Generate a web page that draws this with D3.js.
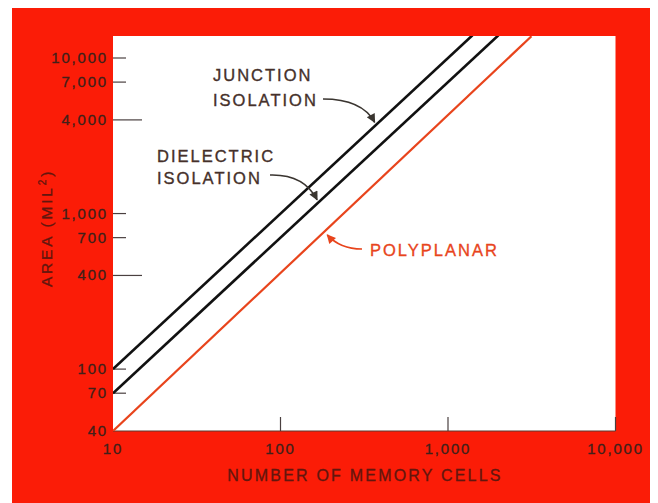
<!DOCTYPE html>
<html>
<head>
<meta charset="utf-8">
<script src="https://cdn.jsdelivr.net/npm/d3@7"></script>
<style>
  html, body { margin: 0; padding: 0; background: #ffffff; }
  svg { display: block; }
  text { font-family: "Liberation Sans", Arial, Helvetica, sans-serif; }
</style>
</head>
<body>
<svg id="chart" width="658" height="503"></svg>
<script>
// Axis ticks
const xTicks = [10, 100, 1000, 10000];
const xTickLabels = ["10", "100", "1,000", "10,000"];
const yTicks = [40, 70, 100, 400, 700, 1000, 4000, 7000, 10000];
const yTickLabels = ["40", "70", "100", "400", "700", "1,000", "4,000", "7,000", "10,000"];
const yLongTicks = [400, 4000];

// Series: chip area (mil²) against number of memory cells, straight lines on log-log axes
const junctionCells = [10, 1400];
const junctionArea = [100, 14000];
const dielectricCells = [10, 2000];
const dielectricArea = [70, 14000];
const polyplanarCells = [10, 3150];
const polyplanarArea = [40, 13800];

// Where each label's arrow lands on its line
const junctionTip = [375, 3750];
const dielectricTip = [170, 1190];
const polyplanarTip = [185, 740];

const svg = d3.select("#chart");
const plot = { left: 113, right: 615.5, top: 36, bottom: 431 };

const RED = "#fb1c07";
const INK = "#45302a";
const AXIS_INK = "#40201a";
const TITLE_INK = "#62160e";
const ORANGE = "#e8441c";

// Red frame
svg.append("rect")
  .attr("x", 12).attr("y", 8)
  .attr("width", 638).attr("height", 495)
  .attr("fill", RED);

// White plotting field
svg.append("rect")
  .attr("x", plot.left).attr("y", plot.top)
  .attr("width", plot.right - plot.left).attr("height", plot.bottom - plot.top)
  .attr("fill", "#ffffff");

const x = d3.scaleLog().domain([10, 10000]).range([plot.left, plot.right]);
const y = d3.scaleLog().domain([40, 10000]).range([plot.bottom, 58]);

svg.append("defs").append("clipPath").attr("id", "plotClip")
  .append("rect")
  .attr("x", plot.left).attr("y", plot.top)
  .attr("width", plot.right - plot.left).attr("height", plot.bottom - plot.top);

// Bottom edge of the field
svg.append("line")
  .attr("x1", plot.left).attr("x2", plot.right)
  .attr("y1", plot.bottom).attr("y2", plot.bottom)
  .attr("stroke", "#5a3a30").attr("stroke-width", 1.2);

// Y ticks: short marks, longer at 400 and 4,000
const yAxisG = svg.append("g");
yAxisG.selectAll("line.ytick")
  .data(yTicks.filter(v => v !== 40))
  .join("line")
  .attr("class", "ytick")
  .attr("x1", plot.left)
  .attr("x2", d => plot.left + (yLongTicks.includes(d) ? 29 : 13))
  .attr("y1", d => y(d)).attr("y2", d => y(d))
  .attr("stroke", "#4a4040").attr("stroke-width", 1.2);

yAxisG.selectAll("text.ylab")
  .data(yTicks)
  .join("text")
  .attr("class", "ylab")
  .attr("x", 108)
  .attr("y", d => y(d) + 5)
  .attr("text-anchor", "end")
  .attr("font-size", 15)
  .attr("letter-spacing", 1.8)
  .attr("fill", AXIS_INK)
  .attr("stroke", AXIS_INK).attr("stroke-width", 0.3)
  .text((d, i) => yTickLabels[i]);

// X ticks
const xAxisG = svg.append("g");
xAxisG.selectAll("line.xtick")
  .data(xTicks.filter(v => v !== 10))
  .join("line")
  .attr("class", "xtick")
  .attr("x1", d => x(d)).attr("x2", d => x(d))
  .attr("y1", plot.bottom).attr("y2", plot.bottom - 14)
  .attr("stroke", "#4a4040").attr("stroke-width", 1.2);

xAxisG.selectAll("text.xlab")
  .data(xTicks)
  .join("text")
  .attr("class", "xlab")
  .attr("x", d => x(d))
  .attr("y", 454)
  .attr("text-anchor", "middle")
  .attr("font-size", 15)
  .attr("letter-spacing", 1.8)
  .attr("fill", AXIS_INK)
  .attr("stroke", AXIS_INK).attr("stroke-width", 0.3)
  .text((d, i) => xTickLabels[i]);

// Axis titles
svg.append("text")
  .attr("x", 365).attr("y", 481)
  .attr("text-anchor", "middle")
  .attr("font-size", 16)
  .attr("letter-spacing", 2.2)
  .attr("fill", TITLE_INK)
  .attr("stroke", TITLE_INK).attr("stroke-width", 0.3)
  .text("NUMBER OF MEMORY CELLS");

const yTitle = svg.append("text")
  .attr("transform", "translate(52,228) rotate(-90)")
  .attr("text-anchor", "middle")
  .attr("font-size", 15.5)
  .attr("letter-spacing", 2.8)
  .attr("fill", TITLE_INK)
  .attr("stroke", TITLE_INK).attr("stroke-width", 0.3);
yTitle.append("tspan").text("AREA (MIL");
yTitle.append("tspan").attr("dy", -6).attr("font-size", 10).text("2");
yTitle.append("tspan").attr("dy", 6).text(")");

// Series lines
const line = d3.line().x(d => x(d[0])).y(d => y(d[1]));
const series = [
  { cells: junctionCells, area: junctionArea, color: "#111111", width: 2.6 },
  { cells: dielectricCells, area: dielectricArea, color: "#111111", width: 2.6 },
  { cells: polyplanarCells, area: polyplanarArea, color: ORANGE, width: 2.2 }
];
svg.append("g").attr("clip-path", "url(#plotClip)")
  .selectAll("path")
  .data(series)
  .join("path")
  .attr("d", s => line(d3.zip(s.cells, s.area)))
  .attr("fill", "none")
  .attr("stroke", s => s.color)
  .attr("stroke-width", s => s.width);

// Arrowheads
const defs = svg.select("defs");
function arrowMarker(id, color) {
  defs.append("marker")
    .attr("id", id)
    .attr("viewBox", "0 0 10 10")
    .attr("refX", 9).attr("refY", 5)
    .attr("markerUnits", "userSpaceOnUse")
    .attr("markerWidth", 11).attr("markerHeight", 9)
    .attr("orient", "auto")
    .append("path")
    .attr("d", "M0,0 L10,5 L0,10 Z")
    .attr("fill", color);
}
arrowMarker("arrowDark", "#3a3530");
arrowMarker("arrowRed", ORANGE);

// Labels with curved arrows
function label(lines, lx, ly, color, lineGap) {
  const t = svg.append("text")
    .attr("font-size", 16.5)
    .attr("letter-spacing", 2)
    .attr("fill", color)
    .attr("stroke", color).attr("stroke-width", 0.35);
  lines.forEach((s, i) => {
    t.append("tspan").attr("x", lx).attr("y", ly + i * lineGap).text(s);
  });
}

label(["JUNCTION", "ISOLATION"], 213, 81, INK, 25);
label(["DIELECTRIC", "ISOLATION"], 157, 162, INK, 22);
label(["POLYPLANAR"], 370, 256, ORANGE, 0);

function curvedArrow(from, ctrl, tip, color, marker) {
  const p = d3.path();
  p.moveTo(from[0], from[1]);
  p.quadraticCurveTo(ctrl[0], ctrl[1], tip[0], tip[1]);
  svg.append("path")
    .attr("d", p.toString())
    .attr("fill", "none")
    .attr("stroke", color)
    .attr("stroke-width", 1.6)
    .attr("marker-end", `url(#${marker})`);
}

const jt = [x(junctionTip[0]), y(junctionTip[1])];
curvedArrow([323, 99], [362, 99], [jt[0] - 2, jt[1] - 2], "#3a3530", "arrowDark");
const dt = [x(dielectricTip[0]), y(dielectricTip[1])];
curvedArrow([270, 175], [304, 174], [dt[0] - 2, dt[1] - 2], "#3a3530", "arrowDark");
const pt = [x(polyplanarTip[0]), y(polyplanarTip[1])];
curvedArrow([362, 249], [340, 249], [pt[0] + 2, pt[1] + 1], ORANGE, "arrowRed");
</script>
</body>
</html>
